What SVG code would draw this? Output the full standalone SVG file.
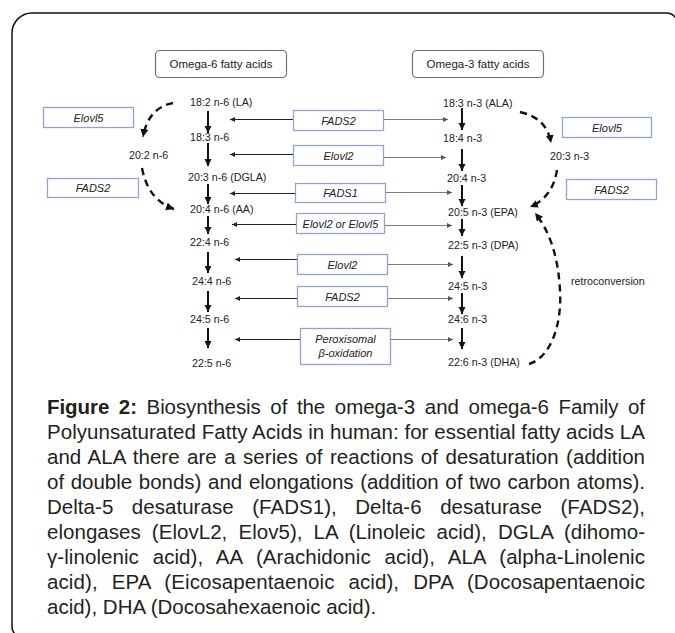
<svg xmlns="http://www.w3.org/2000/svg" width="675" height="633" viewBox="0 0 675 633">
<style>
.t{font-family:"Liberation Sans",Arial,sans-serif;font-size:10.7px;fill:#222}
.e{font-family:"Liberation Sans",Arial,sans-serif;font-size:11px;font-style:italic;fill:#222;text-anchor:middle}
.h{font-family:"Liberation Sans",Arial,sans-serif;font-size:11.5px;fill:#222;text-anchor:middle}
.eb{fill:#fff;stroke:#8ea6cf;stroke-width:1.3}
.ob{fill:#fff;stroke:#707070;stroke-width:1.2}
.v{stroke:#111;stroke-width:2;fill:none;marker-end:url(#ah)}
.hl{stroke:#222;stroke-width:1;fill:none;marker-end:url(#as)}
.hr{stroke:#7a7a7a;stroke-width:1;fill:none;marker-end:url(#asg)}
.d{stroke:#111;stroke-width:2.4;fill:none;stroke-dasharray:7 5;marker-end:url(#ad)}
.cap{font-family:"Liberation Sans",Arial,sans-serif;font-size:20.5px;fill:#231f20}
</style>
<defs>
<marker id="ah" markerUnits="userSpaceOnUse" markerWidth="8" markerHeight="8" refX="7" refY="3.5" orient="auto"><path d="M0,0 L7,3.5 L0,7 z" fill="#111"/></marker>
<marker id="as" markerUnits="userSpaceOnUse" markerWidth="6" markerHeight="6" refX="5" refY="2.5" orient="auto"><path d="M0,0 L5,2.5 L0,5 z" fill="#222"/></marker>
<marker id="asg" markerUnits="userSpaceOnUse" markerWidth="6" markerHeight="6" refX="5" refY="2.5" orient="auto"><path d="M0,0 L5,2.5 L0,5 z" fill="#555"/></marker>
<marker id="ad" markerUnits="userSpaceOnUse" markerWidth="10" markerHeight="10" refX="8" refY="4" orient="auto"><path d="M0,0 L8,4 L0,8 z" fill="#111"/></marker>
</defs>
<rect width="675" height="633" fill="#fff"/>
<path d="M690,637 L22,637 A10,10 0 0 1 12,627 L12,33 A20,20 0 0 1 32,13 L667,13 A10,10 0 0 1 677,23 L677,640" fill="none" stroke="#111" stroke-width="1.5"/>

<g id="omega6-header"><rect class="ob" x="155.5" y="50.5" width="131" height="27" rx="4"/><text class="h" x="221" y="68">Omega-6  fatty acids</text></g>
<g id="omega3-header"><rect class="ob" x="412.5" y="50.5" width="131" height="27" rx="4"/><text class="h" x="478" y="68">Omega-3  fatty acids</text></g>

<g id="n6-LA"><text class="t" x="190" y="106">18:2 n-6 (LA)</text></g>
<g id="n6-183"><text class="t" x="190" y="141">18:3 n-6</text></g>
<g id="n6-DGLA"><text class="t" x="188" y="181">20:3 n-6 (DGLA)</text></g>
<g id="n6-AA"><text class="t" x="190" y="213">20:4 n-6 (AA)</text></g>
<g id="n6-224"><text class="t" x="190" y="246">22:4 n-6</text></g>
<g id="n6-244"><text class="t" x="192" y="285">24:4 n-6</text></g>
<g id="n6-245"><text class="t" x="190" y="323">24:5 n-6</text></g>
<g id="n6-225"><text class="t" x="192" y="367">22:5 n-6</text></g>
<g id="n6-202"><text class="t" x="129" y="159">20:2 n-6</text></g>

<g id="n3-ALA"><text class="t" x="443" y="107">18:3 n-3 (ALA)</text></g>
<g id="n3-184"><text class="t" x="443" y="142">18:4 n-3</text></g>
<g id="n3-204"><text class="t" x="447" y="182">20:4 n-3</text></g>
<g id="n3-EPA"><text class="t" x="448" y="216">20:5 n-3 (EPA)</text></g>
<g id="n3-DPA"><text class="t" x="448" y="249">22:5 n-3 (DPA)</text></g>
<g id="n3-245"><text class="t" x="448" y="290">24:5 n-3</text></g>
<g id="n3-246"><text class="t" x="448" y="323">24:6 n-3</text></g>
<g id="n3-DHA"><text class="t" x="448" y="366">22:6 n-3 (DHA)</text></g>
<g id="n3-203"><text class="t" x="550" y="160">20:3 n-3</text></g>
<g id="retro-label"><text class="t" x="571" y="285">retroconversion</text></g>

<g id="enz-elovl5-left"><rect class="eb" x="43.5" y="107.5" width="90" height="20"/><text class="e" x="88.5" y="121.5">Elovl5</text></g>
<g id="enz-fads2-left"><rect class="eb" x="47.5" y="178.5" width="91" height="19"/><text class="e" x="93" y="192">FADS2</text></g>
<g id="enz-elovl5-right"><rect class="eb" x="562.5" y="117.5" width="89" height="20"/><text class="e" x="607" y="131.5">Elovl5</text></g>
<g id="enz-fads2-right"><rect class="eb" x="566.5" y="179.5" width="90" height="20"/><text class="e" x="611.5" y="193.5">FADS2</text></g>

<g id="enz-fads2-a"><rect class="eb" x="293.5" y="110.5" width="90" height="20"/><text class="e" x="338.5" y="124.5">FADS2</text></g>
<g id="enz-elovl2-a"><rect class="eb" x="293.5" y="145.5" width="90" height="20"/><text class="e" x="338.5" y="159.5">Elovl2</text></g>
<g id="enz-fads1"><rect class="eb" x="295.5" y="183.5" width="90" height="19"/><text class="e" x="340.5" y="197">FADS1</text></g>
<g id="enz-elovl2or5"><rect class="eb" x="296.5" y="213.5" width="88" height="20"/><text class="e" x="340.5" y="227.5">Elovl2 or Elovl5</text></g>
<g id="enz-elovl2-b"><rect class="eb" x="297.5" y="254.5" width="90" height="20"/><text class="e" x="342.5" y="268.5">Elovl2</text></g>
<g id="enz-fads2-b"><rect class="eb" x="297.5" y="286.5" width="90" height="20"/><text class="e" x="342.5" y="300.5">FADS2</text></g>
<g id="enz-perox"><rect class="eb" x="300.5" y="328.5" width="90" height="36"/><text class="e" x="345.5" y="343">Peroxisomal</text><text class="e" x="345.5" y="357">β-oxidation</text></g>

<g id="connectors">
<line class="v" x1="208" y1="111" x2="208" y2="133"/>
<line class="v" x1="208" y1="143" x2="208" y2="166"/>
<line class="v" x1="208" y1="184" x2="208" y2="204"/>
<line class="v" x1="208" y1="216" x2="208" y2="234"/>
<line class="v" x1="208" y1="252" x2="208" y2="273"/>
<line class="v" x1="208" y1="291" x2="208" y2="312"/>
<line class="v" x1="208" y1="328" x2="208" y2="348"/>

<line class="v" x1="462" y1="108" x2="462" y2="130"/>
<line class="v" x1="462" y1="149" x2="462" y2="171"/>
<line class="v" x1="462" y1="185" x2="462" y2="206"/>
<line class="v" x1="462" y1="219" x2="462" y2="236"/>
<line class="v" x1="462" y1="256" x2="462" y2="278"/>
<line class="v" x1="462" y1="293" x2="462" y2="314"/>
<line class="v" x1="462" y1="328" x2="462" y2="349"/>

<line class="hl" x1="293" y1="119.5" x2="230" y2="119.5"/>
<line class="hl" x1="293" y1="154.5" x2="230" y2="154.5"/>
<line class="hl" x1="295" y1="193.5" x2="230" y2="193.5"/>
<line class="hl" x1="296" y1="224.5" x2="232" y2="224.5"/>
<line class="hl" x1="297" y1="259.5" x2="235" y2="259.5"/>
<line class="hl" x1="297" y1="298.5" x2="235" y2="298.5"/>
<line class="hl" x1="300" y1="339.5" x2="235" y2="339.5"/>

<line class="hr" x1="384" y1="119.5" x2="448" y2="119.5"/>
<line class="hr" x1="384" y1="157.5" x2="446" y2="157.5"/>
<line class="hr" x1="386" y1="192.5" x2="452" y2="192.5"/>
<line class="hr" x1="385" y1="225.5" x2="452" y2="225.5"/>
<line class="hr" x1="388" y1="264.5" x2="453" y2="264.5"/>
<line class="hr" x1="388" y1="298.5" x2="453" y2="298.5"/>
<line class="hr" x1="391" y1="339.5" x2="453" y2="339.5"/>

<path class="d" d="M173,103 Q148,108 143,137"/>
<path class="d" d="M142,168 Q148,200 174,209"/>
<path class="d" d="M520,112 Q547,118 551,143"/>
<path class="d" d="M557,170 Q553,197 530,207"/>
<path class="d" d="M529,364 C552,357 562,322 560,290 C558,256 550,232 535,213"/>
</g>

<g id="caption">
<text class="cap" x="47" y="414" textLength="598" lengthAdjust="spacing" word-spacing="4"><tspan font-weight="bold">Figure 2:</tspan> Biosynthesis of the omega-3 and omega-6 Family of</text>
<text class="cap" x="47" y="439" textLength="598" lengthAdjust="spacing">Polyunsaturated Fatty Acids in human: for essential fatty acids LA</text>
<text class="cap" x="47" y="464" textLength="598" lengthAdjust="spacing" word-spacing="1.7">and ALA there are a series of reactions of desaturation (addition</text>
<text class="cap" x="47" y="489" textLength="598" lengthAdjust="spacing" word-spacing="1">of double bonds) and elongations (addition of two carbon atoms).</text>
<text class="cap" x="47" y="514" textLength="598" lengthAdjust="spacing" word-spacing="12.8">Delta-5 desaturase (FADS1), Delta-6 desaturase (FADS2),</text>
<text class="cap" x="47" y="539" textLength="598" lengthAdjust="spacing" word-spacing="5.4">elongases (ElovL2, Elov5), LA (Linoleic acid), DGLA (dihomo-</text>
<text class="cap" x="47" y="564" textLength="598" lengthAdjust="spacing" word-spacing="8">γ-linolenic acid), AA (Arachidonic acid), ALA (alpha-Linolenic</text>
<text class="cap" x="47" y="589" textLength="598" lengthAdjust="spacing" word-spacing="8.2">acid), EPA (Eicosapentaenoic acid), DPA (Docosapentaenoic</text>
<text class="cap" x="47" y="614">acid), DHA (Docosahexaenoic acid).</text>
</g>
</svg>
